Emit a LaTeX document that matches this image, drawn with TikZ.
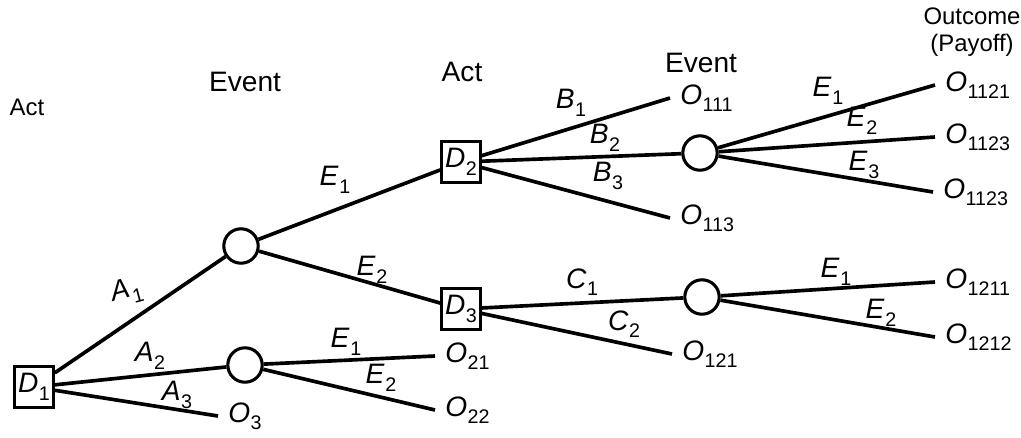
\documentclass[tikz,border=0pt]{standalone}
\usepackage{fontspec}
\setmainfont{Liberation Sans}
\usetikzlibrary{positioning}
\newcommand{\idx}[2]{\textit{#1}\kern.2pt\raisebox{-.5ex}{\fontsize{7}{8}\selectfont #2}}

\begin{document}
\begin{tikzpicture}[x=0.0125cm, y=-0.0125cm, line width=1.3pt,
  font=\fontsize{10}{11}\selectfont,
  act/.style={draw, line width=1.1pt, minimum width=0.48cm, minimum height=0.52cm, inner sep=1pt},
  evt/.style={draw, circle, line width=1.1pt, minimum size=0.43cm, inner sep=0pt},
  pay/.style={anchor=west, inner sep=3pt},
  lbl/.style={inner sep=1pt}]
\useasboundingbox (0,0) rectangle (1021,437);
% column headings
\node (hact1) at (27,107) {\fontsize{8.5}{9}\selectfont Act};
\node (hevt1) at (245,82) {Event};
\node (hact2) at (462,72) {Act};
\node (hevt2) at (701,63) {Event};
\node[align=center, inner sep=1pt, font=\fontsize{8.5}{9.5}\selectfont] (hout) at (972,32) {Outcome\\(Payoff)};
% decision and chance nodes
\node[act] (d1) at (34,387) {\idx{D}{1}};
\node[evt] (e1) at (241,246) {};
\node[evt] (e2) at (245,365) {};
\node[act] (d2) at (461,162) {\idx{D}{2}};
\node[act] (d3) at (461,309) {\idx{D}{3}};
\node[evt] (e3) at (700,153) {};
\node[evt] (e4) at (702,297) {};
% payoffs
\node[pay] (o3) at (218,416) {\idx{O}{3}};
\node[pay] (o21) at (435,356) {\idx{O}{21}};
\node[pay] (o22) at (435,410) {\idx{O}{22}};
\node[pay] (o111) at (670,98) {\idx{O}{111}};
\node[pay] (o113) at (670,218) {\idx{O}{113}};
\node[pay] (o121) at (672,354) {\idx{O}{121}};
\node[pay] (o1121) at (935,85) {\idx{O}{1121}};
\node[pay] (o1123) at (935,137) {\idx{O}{1123}};
\node[pay] (o1123b) at (933,192) {\idx{O}{1123}};
\node[pay] (o1211) at (935,282) {\idx{O}{1211}};
\node[pay] (o1212) at (935,337) {\idx{O}{1212}};
% branches
\draw (d1) -- (e1);
\draw (d1) -- (e2);
\draw (d1) -- (o3.west);
\draw (e1) -- (d2);
\draw (e1) -- (d3);
\draw (e2) -- (o21.west);
\draw (e2) -- (o22.west);
\draw (d2) -- (o111.west);
\draw (d2) -- (e3);
\draw (d2) -- (o113.west);
\draw (e3) -- (o1121.west);
\draw (e3) -- (o1123.west);
\draw (e3) -- (o1123b.west);
\draw (d3) -- (e4);
\draw (d3) -- (o121.west);
\draw (e4) -- (o1211.west);
\draw (e4) -- (o1212.west);
% branch labels
\node[lbl, rotate=15] (la1) at (127,292) {\idx{A}{1}};
\node[lbl] (la2) at (150,356) {\idx{A}{2}};
\node[lbl] (la3) at (177,395) {\idx{A}{3}};
\node[lbl] (le11) at (335,180) {\idx{E}{1}};
\node[lbl] (le12) at (372,270) {\idx{E}{2}};
\node[lbl] (le21) at (346,342) {\idx{E}{1}};
\node[lbl] (le22) at (381,378) {\idx{E}{2}};
\node[lbl] (lb1) at (571,103) {\idx{B}{1}};
\node[lbl] (lb2) at (605,138) {\idx{B}{2}};
\node[lbl] (lb3) at (608,176) {\idx{B}{3}};
\node[lbl] (le31) at (828,91) {\idx{E}{1}};
\node[lbl] (le32) at (862,121) {\idx{E}{2}};
\node[lbl] (le33) at (864,165) {\idx{E}{3}};
\node[lbl] (lc1) at (582,282) {\idx{C}{1}};
\node[lbl] (lc2) at (624,324) {\idx{C}{2}};
\node[lbl] (le41) at (836,272) {\idx{E}{1}};
\node[lbl] (le42) at (881,313) {\idx{E}{2}};
\end{tikzpicture}
\end{document}
